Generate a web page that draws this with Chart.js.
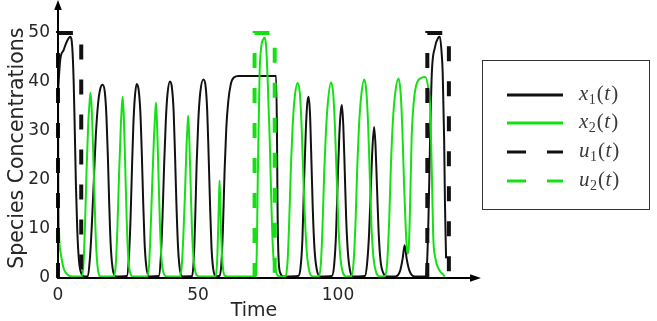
<!DOCTYPE html>
<html><head><meta charset="utf-8">
<script src="https://cdn.jsdelivr.net/npm/chart.js@4/dist/chart.umd.min.js"></script>
<style>html,body{margin:0;padding:0;background:#fff;}#wrap{width:657px;height:321px;}</style>
</head><body><div id="wrap"><canvas id="c" width="657" height="321"></canvas></div>
<script>
const xTickValues = [0, 50, 100];
const yTickValues = [0, 10, 20, 30, 40, 50];
const xTitle = 'Time';
const yTitle = 'Species Concentrations';
const legendNames = [['x','1'], ['x','2'], ['u','1'], ['u','2']];

const x1T = [0,0.8,2,3.2,4.4,5.1,5.6,6,6.4,6.9,7.5,8.3,9.5,
 10.6,11.4,12.1,12.8,13.5,14.3,15.1,15.9,16.7,17.3,17.8,18.3,18.8,19.5,20.6,
 24.6,25.3,25.9,26.4,26.9,27.4,28.1,28.8,29.4,29.9,30.4,30.9,31.5,32.6,
 36,36.7,37.3,37.9,38.5,39.1,40,40.7,41.3,41.8,42.3,42.9,43.6,44.6,
 47.9,48.5,49,49.5,50.1,50.8,51.9,52.7,53.3,53.8,54.3,54.8,55.4,56.4,
 57.6,58.3,58.9,59.5,60.1,60.8,61.7,62.8,64.5,77.9,78.2,78.4,78.7,79.4,80.6,
 85.8,86.6,87.3,87.9,88.5,89,89.5,90,90.5,91,91.6,92.4,93.6,
 97.8,98.6,99.3,99.9,100.5,101,101.4,101.9,102.4,102.9,103.5,104.3,105.4,
 109.6,110.4,111.1,111.7,112.3,112.9,113.4,113.9,114.5,115.2,116.2,117.4,
 120.5,122.2,123.1,123.8,124.5,125.5,127.5,
 131.3,131.8,132.3,132.9,133.5,134.6,135.8,136.4,137,137.4,137.9,138.2,138.6];
const x1V = [38,44.5,46.5,48.3,49.2,47,40,30,19,9.5,3.5,1,0.3,
 0.4,4,11,20,29,35.5,38.6,39.4,38,33,25,15,7,2,0.3,
 0.4,4,12,22,31,36.5,39.6,38.4,34,26,16,7.5,2.5,0.3,
 0.4,4,12,23,32,37.5,40.1,38.8,34,25,15,6,1.5,0.3,
 0.4,4,12,23,32,37.8,40.5,39.2,34,25,15,6.5,2,0.3,
 0.4,2.5,10,21.9,30.5,36,39.5,40.9,41.2,41.2,30,15,5,1,0.3,
 0.4,2,8,20,30,35.5,37,33.5,24,14,6,1.8,0.3,
 0.4,2.5,9,20,29.5,34,35.3,31,22,12.5,5.5,1.5,0.3,
 0.4,3,9,18,26.5,30.8,27,19,9.5,3.5,1,0.3,
 0.3,1.5,4,6.7,4,1.5,0.3,
 0.3,3,12,28.5,41.7,47,49,49.2,46,41.7,28.5,15.3,4];

const x2T = [0,0.15,0.4,1,2,3.2,5,
 8.4,9,9.6,10.2,10.8,11.3,11.6,12,12.5,13,13.5,14.1,15.2,
 19.9,20.6,21.2,21.8,22.4,22.8,23.1,23.5,24,24.5,25,25.7,26.8,
 31.8,32.5,33.1,33.7,34.3,34.7,35,35.4,35.9,36.4,36.9,37.6,38.8,
 43.5,44.2,44.8,45.4,45.9,46.3,46.5,46.9,47.4,47.9,48.5,49.2,50.4,
 56.2,56.8,57.2,57.5,57.7,57.9,58.2,58.7,59.5,60.5,
 70.4,70.8,71.4,72,72.6,73.3,73.8,74.3,74.8,75.6,76.2,76.8,77.8,79.2,
 81.2,82,82.6,83.2,83.8,84.6,85.6,86.4,87,87.6,88.2,88.9,89.8,91,
 93.1,93.9,94.5,95.1,95.7,96.5,97.5,98.3,98.9,99.5,100.1,100.8,101.7,103,
 104.8,105.6,106.3,106.9,107.5,108.3,109.4,110.2,110.8,111.4,112,112.7,113.6,115,
 116.8,117.6,118.3,118.9,119.6,120.5,121.6,122.4,123,123.6,124.2,124.8,125.3,125.8,126.3,127,127.8,129.3,131.2,132.3,132.9,133.5,134,134.8,135.8,138.2];
const x2V = [42,20,9,5,2,0.8,0.3,
 0.3,2,10,22,31.5,36,37.8,35,27,17,8,2.5,0.3,
 0.3,2.5,10,21,30.5,35,37,33,23,12.5,5,1.2,0.3,
 0.3,2.5,10,20,29,33.5,35.8,31,21,11,4.5,1.2,0.3,
 0.3,2.5,9,18,27,31.5,33.1,28,18.5,9,3.5,1,0.3,
 0.3,3,10,16.5,19.9,16.5,10,3.5,0.5,0.3,
 0.3,1,21.9,41.7,47.2,48.7,49,47.5,41.7,28.5,15.3,5.5,1.5,0.3,
 0.3,3.5,12,23,31,37.2,39.8,37.5,31,21,12,5,1.3,0.3,
 0.3,3,11,21.9,30,36.5,39.9,37.5,31,21,11.5,4.5,1.2,0.3,
 0.4,3.5,12,23,31,37.2,40.5,37.5,30.5,20,10,4,1.2,0.3,
 0.4,3.5,12,23,32,38,40.7,37.5,30,19,10,5,6.5,16,28.5,35.5,39,40.7,41,38.5,35.1,21.9,8.7,4,2,0.3];

const u1T = [0,0,8.3,8.3,70,131.9,131.9,139.6,139.6];
const u1V = [0,50,50,0,null,0,50,50,0];
const u2T = [70.2,70.2,77.4,77.4];
const u2V = [0,50,50,0];

const BLACK = '#111111';
const GREEN = '#14e014';
const pts = (T, V) => T.map((t, i) => ({x: t, y: V[i]}));

const axesPlugin = {
  id: 'axesArrows',
  afterDatasetsDraw(chart) {
    const {ctx} = chart;
    const xs = chart.scales.x, ys = chart.scales.y;
    const x0 = xs.getPixelForValue(0), y0 = ys.getPixelForValue(0);
    ctx.save();
    ctx.strokeStyle = '#000'; ctx.fillStyle = '#000'; ctx.lineWidth = 2;
    ctx.beginPath(); ctx.moveTo(x0, y0 + 1); ctx.lineTo(x0, 8); ctx.stroke();
    ctx.beginPath(); ctx.moveTo(x0, 0); ctx.lineTo(x0 - 3.8, 10); ctx.lineTo(x0 + 3.8, 10); ctx.closePath(); ctx.fill();
    ctx.beginPath(); ctx.moveTo(x0 - 1, y0); ctx.lineTo(472, y0); ctx.stroke();
    ctx.beginPath(); ctx.moveTo(481, y0); ctx.lineTo(470, y0 - 3.8); ctx.lineTo(470, y0 + 3.8); ctx.closePath(); ctx.fill();
    ctx.restore();
  }
};

const legendPlugin = {
  id: 'boxLegend',
  afterDraw(chart) {
    const {ctx} = chart;
    ctx.save();
    ctx.strokeStyle = '#333'; ctx.lineWidth = 1;
    ctx.strokeRect(482.5, 60.5, 167, 149);
    const rows = [95, 123, 152, 181];
    chart.data.datasets.forEach((ds, i) => {
      const y = rows[i];
      ctx.strokeStyle = ds.borderColor; ctx.lineWidth = 3.2;
      ctx.setLineDash(ds.borderDash && ds.borderDash.length ? [19, 21] : []);
      ctx.beginPath(); ctx.moveTo(507, y); ctx.lineTo(563, y); ctx.stroke();
      ctx.setLineDash([]);
      const [v, s] = legendNames[i];
      let x = 579;
      const base = y + 5;
      ctx.fillStyle = '#3a3a3a'; ctx.textBaseline = 'alphabetic'; ctx.textAlign = 'left';
      ctx.font = 'italic 21px "Liberation Serif"';
      ctx.fillText(v, x, base); x += ctx.measureText(v).width + 0.5;
      ctx.font = '14px "Liberation Serif"';
      ctx.fillText(s, x, base + 3.5); x += ctx.measureText(s).width + 1;
      ctx.font = '21px "Liberation Serif"';
      ctx.fillText('(', x, base); x += ctx.measureText('(').width + 0.5;
      ctx.font = 'italic 21px "Liberation Serif"';
      ctx.fillText('t', x, base); x += ctx.measureText('t').width + 1;
      ctx.font = '21px "Liberation Serif"';
      ctx.fillText(')', x, base);
    });
    ctx.restore();
  }
};

new Chart(document.getElementById('c'), {
  type: 'line',
  data: {
    datasets: [
      {label: 'x1(t)', data: pts(x1T, x1V), borderColor: BLACK, borderWidth: 2, order: 3, cubicInterpolationMode: 'monotone'},
      {label: 'x2(t)', data: pts(x2T, x2V), borderColor: GREEN, borderWidth: 2, order: 2, cubicInterpolationMode: 'monotone'},
      {label: 'u1(t)', data: pts(u1T, u1V), borderColor: BLACK, borderWidth: 4, borderDash: [15, 20], order: 1, spanGaps: false, clip: false, borderJoinStyle: 'miter'},
      {label: 'u2(t)', data: pts(u2T, u2V), borderColor: GREEN, borderWidth: 4, borderDash: [15, 20], order: 0, clip: false, borderJoinStyle: 'miter'}
    ]
  },
  options: {
    responsive: false, animation: false, devicePixelRatio: 1,
    elements: {point: {radius: 0}, line: {fill: false, tension: 0}},
    layout: {padding: {left: 0, right: 207, top: 10, bottom: 0}},
    plugins: {legend: {display: false}, tooltip: {enabled: false}},
    scales: {
      x: {
        type: 'linear', min: 0, max: 140,
        grid: {display: false, drawTicks: false}, border: {display: false},
        afterBuildTicks: s => { s.ticks = xTickValues.map(v => ({value: v})); },
        afterFit: s => { s.height = 43; },
        ticks: {padding: 7, maxRotation: 0, autoSkip: false, color: '#262626', font: {family: '"DejaVu Sans"', size: 17}},
        title: {display: true, text: xTitle, color: '#262626', font: {family: '"DejaVu Sans"', size: 19, lineHeight: 1.0}, padding: {top: 0, bottom: 0}}
      },
      y: {
        type: 'linear', min: 0, max: 53,
        grid: {display: false, drawTicks: false}, border: {display: false},
        afterBuildTicks: s => { s.ticks = yTickValues.map(v => ({value: v})); },
        afterFit: s => { s.width = 58; },
        ticks: {padding: 8, color: '#262626', font: {family: '"DejaVu Sans"', size: 17}},
        title: {display: true, text: yTitle, color: '#262626', font: {family: '"DejaVu Sans"', size: 20.5}, padding: {top: 5, bottom: 0}}
      }
    }
  },
  plugins: [axesPlugin, legendPlugin]
});
</script></body></html>
